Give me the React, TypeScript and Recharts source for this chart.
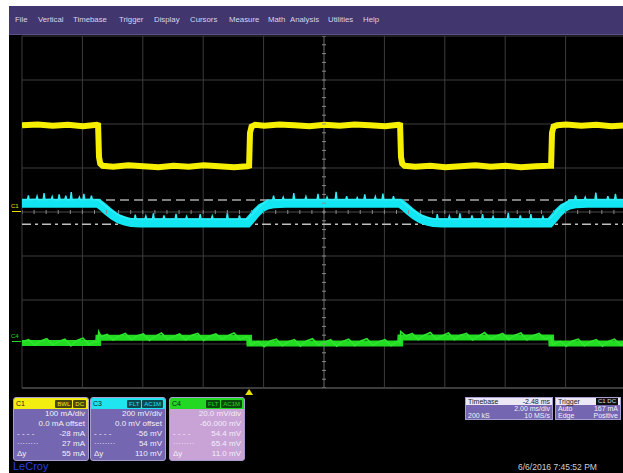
import React from 'react';
import { ComposedChart, Line, Scatter, XAxis, YAxis, ReferenceLine, ReferenceDot } from 'recharts';

const menuItems = ['File', 'Vertical', 'Timebase', 'Trigger', 'Display', 'Cursors', 'Measure', 'Math', 'Analysis', 'Utilities', 'Help'];
const menuLeft = [15, 38, 73, 119, 154, 190, 229, 268, 290, 328, 363];

// time in ms (trigger = 0), amplitude in screen divisions
const gridTimes = [-7.52, -5.52, -3.52, -1.52, 0.48, 2.48, 4.48, 6.48, 8.48, 10.48, 12.48];
const gridDivs = [-4, -3, -2, -1, 0, 1, 2, 3, 4];
const centerTime = 2.48;
const cursorHi = 0.27; // 54 mV @ 200 mV/div
const cursorLo = -0.28; // -56 mV

const c1Trace: [number, number][] = [
  [-7.52, 1.97], [-7.0, 1.99], [-6.5, 1.96], [-6.0, 1.98], [-5.5, 1.95], [-5.05, 1.98], [-5.0, 1.97],
  [-4.97, 1.25], [-4.93, 1.1], [-4.85, 1.05], [-4.5, 1.03], [-4.0, 1.06], [-3.5, 1.04], [-3.0, 1.02],
  [-2.5, 1.05], [-2.0, 1.03], [-1.5, 1.06], [-1.0, 1.04], [-0.5, 1.02], [-0.05, 1.04], [0.0, 1.05],
  [0.03, 1.8], [0.08, 1.94], [0.2, 1.98], [0.5, 1.96], [1.0, 1.99], [1.5, 1.97], [2.0, 1.95],
  [2.5, 1.98], [3.0, 1.96], [3.5, 1.99], [4.0, 1.97], [4.5, 1.95], [4.95, 1.98], [5.0, 1.97],
  [5.03, 1.25], [5.07, 1.1], [5.15, 1.05], [5.5, 1.03], [6.0, 1.05], [6.5, 1.02], [7.0, 1.04],
  [7.5, 1.06], [8.0, 1.03], [8.5, 1.05], [9.0, 1.02], [9.5, 1.04], [9.95, 1.05], [10.0, 1.05],
  [10.03, 1.8], [10.08, 1.94], [10.2, 1.97], [10.5, 1.99], [11.0, 1.96], [11.5, 1.98], [12.0, 1.95],
  [12.48, 1.97],
];

const c3Band: [number, number][] = [
  [-7.52, 0.2], [-5.0, 0.2], [-4.85, 0.12], [-4.7, 0.03], [-4.5, -0.08], [-4.3, -0.16], [-4.1, -0.21],
  [-3.9, -0.24], [-3.6, -0.25], [-0.05, -0.25], [0.1, -0.13], [0.25, -0.01], [0.4, 0.09], [0.6, 0.16],
  [0.85, 0.19], [1.2, 0.2], [5.0, 0.2], [5.15, 0.12], [5.3, 0.03], [5.5, -0.08], [5.7, -0.16],
  [5.9, -0.21], [6.1, -0.24], [6.4, -0.25], [9.95, -0.25], [10.1, -0.13], [10.25, -0.01], [10.4, 0.09],
  [10.6, 0.16], [10.85, 0.19], [11.2, 0.2], [12.48, 0.2],
];

const c3Noise: [number, number][] = [
  [-7.52, 0.28], [-7.34, 0.28], [-7.31, 0.38], [-7.28, 0.28], [-7.05, 0.29], [-7.02, 0.36], [-6.99, 0.28],
  [-6.82, 0.28], [-6.79, 0.43], [-6.76, 0.28], [-6.55, 0.29], [-6.52, 0.35], [-6.49, 0.28], [-6.32, 0.28],
  [-6.29, 0.4], [-6.26, 0.28], [-6.1, 0.29], [-6.07, 0.37], [-6.04, 0.28], [-5.92, 0.28], [-5.89, 0.45],
  [-5.86, 0.28], [-5.65, 0.29], [-5.62, 0.34], [-5.59, 0.28], [-5.5, 0.28], [-5.47, 0.41], [-5.44, 0.28],
  [-5.25, 0.29], [-5.22, 0.37], [-5.19, 0.28], [-5.0, 0.28],
  [-4.7, 0.1], [-4.3, -0.08], [-4.0, -0.15],
  [-3.8, -0.16], [-3.77, -0.06], [-3.74, -0.16], [-3.45, -0.16], [-3.42, -0.09], [-3.39, -0.16],
  [-3.2, -0.16], [-3.17, -0.03], [-3.14, -0.16], [-2.85, -0.16], [-2.82, -0.08], [-2.79, -0.16],
  [-2.45, -0.16], [-2.42, -0.04], [-2.39, -0.16], [-2.1, -0.16], [-2.07, -0.1], [-2.04, -0.16],
  [-1.65, -0.16], [-1.62, -0.05], [-1.59, -0.16], [-1.25, -0.16], [-1.22, -0.09], [-1.19, -0.16],
  [-0.75, -0.16], [-0.72, -0.02], [-0.69, -0.16], [-0.35, -0.16], [-0.32, -0.08], [-0.29, -0.16],
  [-0.05, -0.16],
  [0.3, 0.1], [0.6, 0.27],
  [0.78, 0.28], [0.81, 0.37], [0.84, 0.28], [1.1, 0.28], [1.13, 0.34], [1.16, 0.28], [1.45, 0.28],
  [1.48, 0.43], [1.51, 0.28], [1.85, 0.28], [1.88, 0.35], [1.91, 0.28], [2.25, 0.28], [2.28, 0.41],
  [2.31, 0.28], [2.55, 0.28], [2.58, 0.34], [2.61, 0.28], [2.85, 0.28], [2.88, 0.46], [2.91, 0.28],
  [3.2, 0.28], [3.23, 0.36], [3.26, 0.28], [3.55, 0.28], [3.58, 0.33], [3.61, 0.28], [3.8, 0.28],
  [3.83, 0.4], [3.86, 0.28], [4.15, 0.28], [4.18, 0.35], [4.21, 0.28], [4.4, 0.28], [4.43, 0.42],
  [4.46, 0.28], [4.75, 0.28], [4.78, 0.36], [4.81, 0.28], [5.0, 0.28],
  [5.3, 0.1], [5.7, -0.08], [6.0, -0.15],
  [6.2, -0.16], [6.23, -0.05], [6.26, -0.16], [6.6, -0.16], [6.63, -0.09], [6.66, -0.16], [6.95, -0.16],
  [6.98, -0.03], [7.01, -0.16], [7.35, -0.16], [7.38, -0.08], [7.41, -0.16], [7.7, -0.16], [7.73, -0.05],
  [7.76, -0.16], [8.05, -0.16], [8.08, -0.1], [8.11, -0.16], [8.55, -0.16], [8.58, -0.02], [8.61, -0.16],
  [8.95, -0.16], [8.98, -0.08], [9.01, -0.16], [9.3, -0.16], [9.33, -0.05], [9.36, -0.16], [9.7, -0.16],
  [9.73, -0.1], [9.76, -0.16], [9.95, -0.16],
  [10.3, 0.1], [10.6, 0.27],
  [10.78, 0.28], [10.81, 0.38], [10.84, 0.28], [11.1, 0.28], [11.13, 0.34], [11.16, 0.28], [11.45, 0.28],
  [11.48, 0.44], [11.51, 0.28], [11.85, 0.28], [11.88, 0.36], [11.91, 0.28], [12.1, 0.28], [12.13, 0.41],
  [12.16, 0.28], [12.48, 0.28],
];

const c4Band: [number, number][] = [
  [-7.52, -2.98], [-5.0, -2.98], [-4.99, -2.86], [0.0, -2.86], [0.01, -2.99], [5.0, -2.99],
  [5.01, -2.85], [10.0, -2.85], [10.01, -2.99], [12.48, -2.99],
];

const c4Noise: [number, number][] = [
  [-7.52, -2.95], [-7.3, -2.9], [-7.1, -3.03], [-6.9, -2.93], [-6.7, -2.88], [-6.5, -3.02], [-6.3, -2.94],
  [-6.1, -2.89], [-5.9, -3.04], [-5.7, -2.92], [-5.5, -2.87], [-5.3, -3.01], [-5.1, -2.94], [-5.0, -2.96],
  [-4.98, -2.72], [-4.9, -2.83], [-4.7, -2.78], [-4.5, -2.91], [-4.3, -2.82], [-4.1, -2.76], [-3.9, -2.9],
  [-3.7, -2.81], [-3.5, -2.77], [-3.3, -2.92], [-3.1, -2.82], [-2.9, -2.75], [-2.7, -2.9], [-2.5, -2.83],
  [-2.3, -2.77], [-2.1, -2.91], [-1.9, -2.8], [-1.7, -2.76], [-1.5, -2.92], [-1.3, -2.82], [-1.1, -2.77],
  [-0.9, -2.89], [-0.7, -2.81], [-0.5, -2.75], [-0.3, -2.9], [-0.1, -2.83], [0.0, -2.86], [0.05, -3.02],
  [0.3, -2.94], [0.5, -3.06], [0.7, -2.93], [0.9, -2.89], [1.1, -3.04], [1.3, -2.95], [1.5, -2.9],
  [1.7, -3.05], [1.9, -2.93], [2.1, -2.88], [2.3, -3.03], [2.5, -2.96], [2.7, -2.9], [2.9, -3.05],
  [3.1, -2.94], [3.3, -2.89], [3.5, -3.04], [3.7, -2.93], [3.9, -2.88], [4.1, -3.03], [4.3, -2.95],
  [4.5, -2.9], [4.7, -3.04], [4.9, -2.94], [5.0, -2.97], [5.02, -2.72], [5.2, -2.82], [5.4, -2.76],
  [5.6, -2.9], [5.8, -2.8], [6.0, -2.74], [6.2, -2.89], [6.4, -2.81], [6.6, -2.75], [6.8, -2.9],
  [7.0, -2.8], [7.2, -2.76], [7.4, -2.91], [7.6, -2.82], [7.8, -2.74], [8.0, -2.89], [8.2, -2.81],
  [8.4, -2.76], [8.6, -2.9], [8.8, -2.8], [9.0, -2.75], [9.2, -2.91], [9.4, -2.81], [9.6, -2.76],
  [9.8, -2.89], [10.0, -2.84], [10.05, -3.02], [10.3, -2.94], [10.5, -3.05], [10.7, -2.93], [10.9, -2.89],
  [11.1, -3.04], [11.3, -2.95], [11.5, -2.9], [11.7, -3.05], [11.9, -2.94], [12.1, -2.89], [12.3, -3.03],
  [12.48, -2.95],
];

const c1Rows: [string, string][] = [['', '100 mA/div'], ['', '0.0 mA offset'], ['- - - -', '-28 mA'], ['········', '27 mA'], ['Δy', '55 mA']];
const c3Rows: [string, string][] = [['', '200 mV/div'], ['', '0.0 mV offset'], ['- - - -', '-56 mV'], ['········', '54 mV'], ['Δy', '110 mV']];
const c4Rows: [string, string][] = [['', '20.0 mV/div'], ['', '-60.000 mV'], ['- - - -', '54.4 mV'], ['········', '65.4 mV'], ['Δy', '11.0 mV']];
const timebaseRows: [string, string][] = [['', '2.00 ms/div'], ['200 kS', '10 MS/s']];
const triggerRows: [string, string][] = [['Auto', '167 mA'], ['Edge', 'Positive']];

const pts = (a: [number, number][]) => a.map(([t, v]) => ({ t, v }));

const minorH = Array.from({ length: 51 }, (_, i) => ({ t: -7.52 + i * 0.4, v: 0 }));
const minorV = Array.from({ length: 41 }, (_, i) => ({ t: centerTime, v: -4 + i * 0.2 }));

const FONT = '"Liberation Sans", Arial, sans-serif';

const tickV = (p: any) => <line x1={p.cx} x2={p.cx} y1={p.cy - 2} y2={p.cy + 2} stroke="#8a8a8a" strokeWidth={1} />;
const tickH = (p: any) => <line x1={p.cx - 2} x2={p.cx + 2} y1={p.cy} y2={p.cy} stroke="#8a8a8a" strokeWidth={1} />;
const trigMark = (p: any) => (
  <polygon points={`${p.cx},${p.cy + 1} ${p.cx - 4},${p.cy + 7} ${p.cx + 4},${p.cy + 7}`} fill="#e8e000" />
);

const Panel: React.FC<any> = ({ left, title, badges, headBg, badgeBg, badgeFg, bodyBg, rows }) => (
  <div style={{ position: 'absolute', left, top: 397, width: 74, height: 62, borderRadius: 3, overflow: 'hidden', background: bodyBg, border: '1px solid #a89fd0', fontFamily: FONT }}>
    <div style={{ height: 11, background: headBg, display: 'flex', alignItems: 'center', padding: '0 2px', fontSize: 7 }}>
      <span style={{ color: '#1a1a1a', flex: 1 }}>{title}</span>
      {badges.map((b: string) => (
        <span key={b} style={{ background: badgeBg, color: badgeFg, fontSize: 6, padding: '0 2px', marginLeft: 1, lineHeight: '8px', borderRadius: 1 }}>{b}</span>
      ))}
    </div>
    {rows.map(([l, r]: [string, string], i: number) => (
      <div key={i} style={{ height: 10, display: 'flex', justifyContent: 'space-between', padding: '0 3px', fontSize: 8, lineHeight: '10px', color: '#f2f0fa' }}>
        <span>{l}</span><span>{r}</span>
      </div>
    ))}
  </div>
);

const InfoBox: React.FC<any> = ({ left, width, title, value, badge, rows }) => (
  <div style={{ position: 'absolute', left, top: 397, width, height: 21, background: '#7466b0', border: '1px solid #a89fd0', fontFamily: FONT, fontSize: 7, color: '#f2f0fa' }}>
    <div style={{ height: 7, background: '#ece8f6', color: '#222', display: 'flex', justifyContent: 'space-between', alignItems: 'center', padding: '0 2px', lineHeight: '7px' }}>
      <span>{title}</span>
      {value && <span>{value}</span>}
      {badge && <span style={{ background: '#111', color: '#ddd', fontSize: 6, padding: '0 2px' }}>{badge}</span>}
    </div>
    {rows.map(([l, r]: [string, string], i: number) => (
      <div key={i} style={{ height: 7, display: 'flex', justifyContent: 'space-between', padding: '0 2px', lineHeight: '7px' }}>
        <span>{l}</span><span>{r}</span>
      </div>
    ))}
  </div>
);

export default function App() {
  return (
    <div style={{ position: 'fixed', left: 0, top: 0, width: 623, height: 473, overflow: 'hidden', background: '#fff' }}>
      <div style={{ position: 'absolute', left: 9, top: 34, right: 0, bottom: 0, background: '#000' }} />
      <div style={{ position: 'absolute', left: 9, top: 6, right: 0, height: 28, background: '#41366e', borderBottom: '1px solid #5a4f8a' }} />
      {menuItems.map((m, i) => (
        <div key={m} style={{ position: 'absolute', left: menuLeft[i], top: 15, fontFamily: FONT, fontSize: 7.8, color: '#d8d4ec' }}>{m}</div>
      ))}

      <div style={{ position: 'absolute', left: 0, top: 0 }}>
        <ComposedChart width={640} height={400} margin={{ top: 36, left: 22, right: 14, bottom: 12 }}>
          <XAxis dataKey="t" type="number" domain={[-7.52, 12.48]} allowDataOverflow hide />
          <YAxis type="number" domain={[-4, 4]} allowDataOverflow hide />
          {gridTimes.map((t) => (
            <ReferenceLine key={`gx${t}`} x={t} stroke={t === centerTime ? '#6e6e6e' : '#3c3c3c'} strokeWidth={1} ifOverflow="visible" />
          ))}
          {gridDivs.map((v) => (
            <ReferenceLine key={`gy${v}`} y={v} stroke={v === 0 ? '#4a4a4a' : '#3c3c3c'} strokeWidth={v === -4 ? 2 : 1} />
          ))}
          <Scatter data={minorH} dataKey="v" shape={tickV} isAnimationActive={false} />
          <Scatter data={minorV} dataKey="v" shape={tickH} isAnimationActive={false} />
          <ReferenceLine y={cursorHi} stroke="#a8a8a8" strokeWidth={1.5} strokeDasharray="9 5" />
          <ReferenceLine y={cursorLo} stroke="#c0c0c0" strokeWidth={1.5} strokeDasharray="9 4 3 4" />
          <Line data={pts(c1Trace)} dataKey="v" type="linear" stroke="#f6f000" strokeWidth={6} dot={false} isAnimationActive={false} />
          <Line data={pts(c3Band)} dataKey="v" type="linear" stroke="#12e6f2" strokeWidth={9} dot={false} isAnimationActive={false} />
          <Line data={pts(c3Noise)} dataKey="v" type="linear" stroke="#30eef8" strokeWidth={1.4} dot={false} isAnimationActive={false} />
          <Line data={pts(c4Band)} dataKey="v" type="linear" stroke="#22dc22" strokeWidth={6} dot={false} isAnimationActive={false} />
          <Line data={pts(c4Noise)} dataKey="v" type="linear" stroke="#2ee62e" strokeWidth={1.6} dot={false} isAnimationActive={false} />
          <ReferenceDot x={0} y={-4} ifOverflow="visible" shape={trigMark} />
        </ComposedChart>
      </div>

      <div style={{ position: 'absolute', left: 11, top: 203, fontFamily: FONT, fontSize: 6, color: '#e8e000' }}>C1</div>
      <div style={{ position: 'absolute', left: 12, top: 211, width: 9, height: 1, background: '#e8e000' }} />
      <div style={{ position: 'absolute', left: 11, top: 333, fontFamily: FONT, fontSize: 6, color: '#22dc22' }}>C4</div>
      <div style={{ position: 'absolute', left: 12, top: 341, width: 9, height: 1, background: '#22dc22' }} />

      <Panel left={13} title="C1" badges={['BWL', 'DC']} headBg="#f4ee10" badgeBg="#4a4608" badgeFg="#f4ee10" bodyBg="#7466b0" rows={c1Rows} />
      <Panel left={90} title="C3" badges={['FLT', 'AC1M']} headBg="#20e4f0" badgeBg="#0a4a50" badgeFg="#20e4f0" bodyBg="#7466b0" rows={c3Rows} />
      <Panel left={169} title="C4" badges={['FLT', 'AC1M']} headBg="#22d822" badgeBg="#0a4a0a" badgeFg="#22d822" bodyBg="#c9a2d6" rows={c4Rows} />

      <InfoBox left={465} width={86} title="Timebase" value="-2.48 ms" rows={timebaseRows} />
      <InfoBox left={555} width={64} title="Trigger" badge="C1 DC" rows={triggerRows} />

      <div style={{ position: 'absolute', left: 13, top: 460, fontFamily: FONT, fontSize: 11, color: '#2a3ee8' }}>LeCroy</div>
      <div style={{ position: 'absolute', left: 518, top: 462, fontFamily: FONT, fontSize: 8.5, color: '#cfcfcf' }}>6/6/2016 7:45:52 PM</div>
    </div>
  );
}
